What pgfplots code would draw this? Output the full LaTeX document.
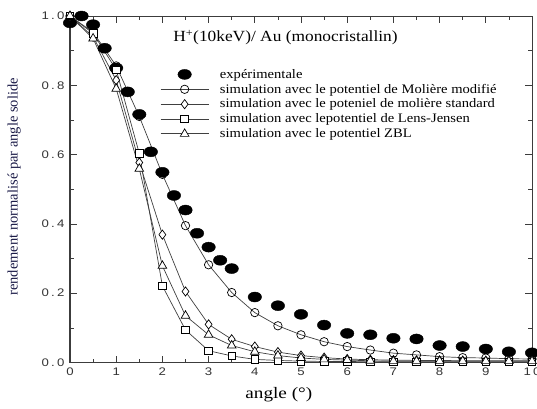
\documentclass[border=0pt]{standalone}
\usepackage{fontspec}
\setmainfont{Liberation Serif}
\newfontfamily\widefont[FakeStretch=1.12]{Liberation Serif}
\newfontfamily\xlabfont[FakeStretch=1.2]{Liberation Serif}
\newfontfamily\tickfont[FakeStretch=1.2,LetterSpace=20]{Liberation Sans}
\usepackage{pgfplots}
\pgfplotsset{compat=1.18}
\definecolor{axgray}{RGB}{60,60,60}
\definecolor{labnavy}{RGB}{25,25,70}
\pgfplotsset{
  linelegend/.style={legend image code/.code={\draw[##1, mark repeat=2, mark phase=2] plot coordinates {(0pt,0pt) (24pt,0pt) (48pt,0pt)};}},
  marklegend/.style={legend image code/.code={\draw[##1] plot coordinates {(24pt,0pt)};}},
}
\begin{document}
\begin{tikzpicture}
\begin{axis}[
  scale only axis,
  width=462pt, height=346.5pt,
  xmin=0, xmax=10, ymin=0, ymax=1,
  xtick={0,1,...,10}, minor xtick={0.5,1.5,...,9.5},
  ytick={0,0.2,0.4,0.6,0.8,1.0}, minor ytick={0.1,0.3,0.5,0.7,0.9},
  yticklabel style={/pgf/number format/fixed, /pgf/number format/fixed zerofill, /pgf/number format/precision=1},
  /pgf/number format/assume math mode=true,
  tick label style={font=\tickfont\fontsize{11}{12}\selectfont, text=black!80},
  xticklabel style={yshift=-2pt},
  yticklabel style={xshift=-2pt},
  tick align=inside,
  major tick length=7pt, minor tick length=4pt,
  every tick/.style={axgray, line width=0.7pt},
  axis line style={axgray, line width=1pt},
  xlabel={angle (°)},
  ylabel={rendement normalisé par angle solide},
  xlabel style={at={(axis description cs:0.452,-0.094)}, anchor=center, font=\xlabfont\fontsize{16}{17}\selectfont},
  ylabel style={at={(axis description cs:-0.121,0.507)}, anchor=center, text=labnavy, font=\fontsize{14.5}{16}\selectfont},
  legend style={draw=none, fill=none, at={(rel axis cs:0.195,0.853)}, anchor=north west,
    font=\widefont\fontsize{13}{13.5}\selectfont, inner sep=0pt, row sep=0.3pt, column sep=9pt},
  legend cell align=left,
  clip=false,
]
\addplot[only marks, mark=*, mark size=5pt, mark options={xscale=1.35, fill=black, draw=black}, marklegend]
coordinates {
(0,0.98) (0.25,1.0) (0.5,0.975) (0.75,0.907) (1.0,0.85) (1.25,0.781) (1.5,0.716)
(1.75,0.608) (2.0,0.549) (2.25,0.482) (2.5,0.44) (2.75,0.373) (3.0,0.333) (3.25,0.295)
(3.5,0.271) (4.0,0.189) (4.5,0.164) (5.0,0.139) (5.5,0.108) (6.0,0.084) (6.5,0.080)
(7.0,0.070) (7.5,0.068) (8.0,0.049) (8.5,0.046) (9.0,0.039) (9.5,0.031) (10.0,0.028)
};
\addlegendentry{expérimentale}
\addplot[black!75, line width=0.7pt, mark=o, mark size=4.2pt, mark options={fill=white, draw=black, line width=0.7pt}, linelegend]
coordinates {
(0,1.0) (0.5,0.953) (1.0,0.856) (1.5,0.71) (2.0,0.543) (2.5,0.395) (3.0,0.282) (3.5,0.202)
(4.0,0.144) (4.5,0.106) (5.0,0.080) (5.5,0.060) (6.0,0.046) (6.5,0.036) (7.0,0.027)
(7.5,0.022) (8.0,0.017) (8.5,0.014) (9.0,0.013) (9.5,0.011) (10.0,0.010)
};
\addlegendentry{simulation avec le potentiel de Molière modifié}
\addplot[black!75, line width=0.7pt, mark=diamond*, mark size=4.6pt, mark options={fill=white, draw=black, line width=0.7pt}, linelegend]
coordinates {
(0,1.0) (0.5,0.94) (1.0,0.815) (1.5,0.577) (2.0,0.369) (2.5,0.205) (3.0,0.11) (3.5,0.067)
(4.0,0.046) (4.5,0.030) (5.0,0.020) (5.5,0.014) (6.0,0.010) (6.5,0.008) (7.0,0.007)
(7.5,0.006) (8.0,0.006) (8.5,0.005) (9.0,0.005) (9.5,0.005) (10.0,0.005)
};
\addlegendentry{simulation avec le poteniel de molière standard}
\addplot[black!75, line width=0.7pt, mark=square*, mark size=3.8pt, mark options={fill=white, draw=black, line width=0.7pt}, linelegend]
coordinates {
(0,1.0) (0.5,0.95) (1.0,0.845) (1.5,0.603) (2.0,0.221) (2.5,0.094) (3.0,0.034) (3.5,0.019)
(4.0,0.009) (4.5,0.006) (5.0,0.004) (5.5,0.003) (6.0,0.003) (6.5,0.002) (7.0,0.002)
(7.5,0.002) (8.0,0.002) (8.5,0.002) (9.0,0.002) (9.5,0.002) (10.0,0.002)
};
\addlegendentry{simulation avec lepotentiel de Lens-Jensen}
\addplot[black!75, line width=0.7pt, mark=triangle*, mark size=5pt, mark options={fill=white, draw=black, line width=0.7pt}, linelegend]
coordinates {
(0,1.0) (0.5,0.935) (1.0,0.79) (1.5,0.559) (2.0,0.279) (2.5,0.135) (3.0,0.080) (3.5,0.049)
(4.0,0.031) (4.5,0.020) (5.0,0.013) (5.5,0.009) (6.0,0.007) (6.5,0.005) (7.0,0.004)
(7.5,0.004) (8.0,0.004) (8.5,0.004) (9.0,0.004) (9.5,0.004) (10.0,0.004)
};
\addlegendentry{simulation avec le potentiel ZBL}
\node[anchor=west, font=\widefont\fontsize{15.5}{17}\selectfont] at (rel axis cs:0.216,0.937) {H\textsuperscript{+}(10keV)/ Au (monocristallin)};
\end{axis}
\pgfresetboundingbox
\useasboundingbox (-70pt,-45.5pt) rectangle (467pt,362.5pt);
\end{tikzpicture}
\end{document}
